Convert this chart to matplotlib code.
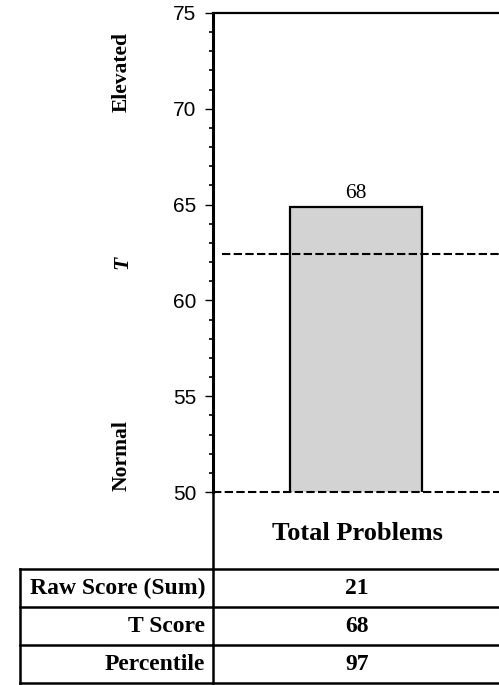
import matplotlib.pyplot as plt
from matplotlib.lines import Line2D
from matplotlib.ticker import MultipleLocator

# Data
categories = ["Total Problems"]
bar_heights = [64.9]
bar_labels = ["68"]
cutoff_lines = [62.4, 50]
row_names = ["Raw Score (Sum)", "T Score", "Percentile"]
raw_scores = ["21"]
t_scores = ["68"]
percentiles = ["97"]

W, H = 499, 685
fig = plt.figure(figsize=(W / 100, H / 100), dpi=100)


def fx(px):
    return px / W


def fy(py):
    return 1 - py / H


ax = fig.add_axes([fx(213), fy(492), 1 - fx(213), fy(13) - fy(492)])
ax.bar(range(len(categories)), bar_heights, width=0.465, bottom=0,
       color="#d3d3d3", edgecolor="black", linewidth=1.6, zorder=2)
for i, (h, lab) in enumerate(zip(bar_heights, bar_labels)):
    ax.text(i, h + 0.2, lab, ha="center", va="bottom", fontsize=15.5,
            family="Liberation Serif")

ax.set_xlim(-0.5, 0.5)
ax.set_ylim(50, 75)
ax.axhline(cutoff_lines[0], xmin=0.03, color="black", linestyle=(0, (4, 1.6)),
           linewidth=1.5, zorder=3)
ax.axhline(cutoff_lines[1], color="black", linestyle=(0, (4, 1.6)),
           linewidth=1.5, zorder=3, clip_on=False)

ax.spines["right"].set_visible(False)
ax.spines["bottom"].set_visible(False)
ax.spines["left"].set_linewidth(2.2)
ax.spines["top"].set_linewidth(1.6)
ax.set_xticks([])
ax.yaxis.set_major_locator(MultipleLocator(5))
ax.yaxis.set_minor_locator(MultipleLocator(1))
ax.tick_params(axis="y", which="major", length=6, width=1, labelsize=15, pad=6)
ax.tick_params(axis="y", which="minor", length=3, width=1.2)
for t in ax.get_yticklabels():
    t.set_family("Liberation Sans")

serif = "Liberation Serif"
fig.text(fx(122), fy(72), "Elevated", rotation=90, ha="center", va="center",
         fontsize=15.5, fontweight="bold", family=serif)
fig.text(fx(122), fy(262), "T", rotation=90, ha="center", va="center",
         fontsize=15.5, fontweight="bold", style="italic", family=serif)
fig.text(fx(122), fy(456), "Normal", rotation=90, ha="center", va="center",
         fontsize=15.5, fontweight="bold", family=serif)

# table below the axes
lw = 1.8
fig.add_artist(Line2D([fx(213), fx(213)], [fy(492), fy(683)], color="black", lw=lw))
for py in [569, 607, 645, 683]:
    fig.add_artist(Line2D([fx(20), 1], [fy(py), fy(py)], color="black", lw=lw))
fig.add_artist(Line2D([fx(20), fx(20)], [fy(569), fy(683)], color="black", lw=lw))

fig.text(fx(357), fy(533), categories[0], ha="center", va="center",
         fontsize=19, fontweight="bold", family=serif)
row_y = [588, 627, 665]
values = [raw_scores[0], t_scores[0], percentiles[0]]
for py, name, val in zip(row_y, row_names, values):
    fig.text(fx(205), fy(py), name, ha="right", va="center",
             fontsize=17, fontweight="bold", family=serif)
    fig.text(fx(357), fy(py), val, ha="center", va="center",
             fontsize=17, fontweight="bold", family=serif)

fig.savefig("out.png", dpi=100)
